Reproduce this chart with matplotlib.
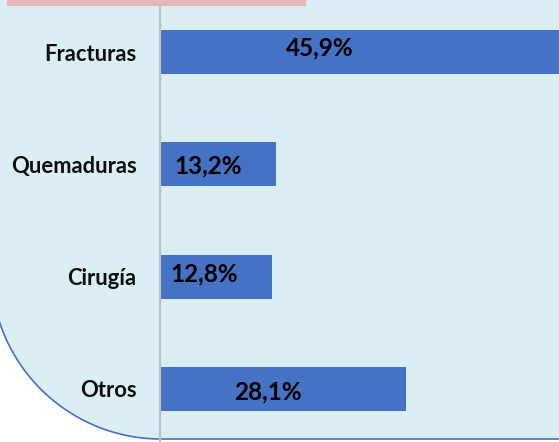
import numpy as np
import matplotlib
matplotlib.use("Agg")
import matplotlib.pyplot as plt
from matplotlib.path import Path
from matplotlib.patches import PathPatch, Rectangle

# datos del gráfico
categorias = ["Fracturas", "Quemaduras", "Cirugía", "Otros"]
valores = [45.9, 13.2, 12.8, 28.1]
etiquetas = ["45,9%", "13,2%", "12,8%", "28,1%"]
# posicion manual de las etiquetas (x en %, desplazamiento vertical en px)
etiq_x = [18.3, 5.45, 5.0, 12.3]
etiq_dy = [-4.5, 2, -3, 3]

W, H = 559, 442
fig = plt.figure(figsize=(W / 100, H / 100), dpi=100, facecolor="white")
plt.rcParams["font.family"] = ["Lato", "DejaVu Sans"]

# fondo con esquina redondeada (coordenadas en pixeles)
ax_bg = fig.add_axes([0, 0, 1, 1], zorder=0)
ax_bg.set_xlim(0, W); ax_bg.set_ylim(H, 0); ax_bg.set_axis_off()
cx, cy, r = 161, 269, 170
ang = np.linspace(np.pi, np.pi / 2, 60)
arc = np.column_stack([cx + r * np.cos(ang), cy + r * np.sin(ang)])
verts = [(cx - r, -20)] + [tuple(p) for p in arc] + [(W + 20, cy + r), (W + 20, -20), (cx - r, -20)]
codes = [Path.MOVETO] + [Path.LINETO] * (len(verts) - 2) + [Path.CLOSEPOLY]
ax_bg.add_patch(PathPatch(Path(verts, codes), facecolor="#DAEEF3", edgecolor="#4472C4", lw=1.2))

# grafico de barras
ax = fig.add_axes([160 / W, 0, (W - 160) / W, 1], zorder=1)
ax.patch.set_alpha(0)
sep = 112.33
y = np.arange(len(categorias))
ax.barh(y, valores, height=44 / sep, color="#4472C4")
ax.set_xlim(0, 45.6)
ax.set_ylim(3 + (H - 389) / sep, -52 / sep)
for s in ["top", "right", "bottom"]:
    ax.spines[s].set_visible(False)
ax.spines["left"].set_color("#BFBFBF")
ax.spines["left"].set_linewidth(1.6)
ax.set_xticks([])
ax.set_yticks(y)
ax.set_yticklabels(categorias, fontsize=15.8, fontweight="bold", color="#0D0D0D")
ax.tick_params(axis="y", length=0, pad=17)

for i, t in enumerate(etiquetas):
    ax.text(etiq_x[i], i + etiq_dy[i] / sep, t, ha="center", va="center",
            fontsize=17.5, fontweight="bold", color="black")

# rectangulo rosa superior
fig.patches.append(Rectangle((7 / W, 1 - 6 / H), 299 / W, 6 / H, transform=fig.transFigure,
                             facecolor="#E6B9B8", edgecolor="none", zorder=5))

fig.savefig("out.png", dpi=100)
